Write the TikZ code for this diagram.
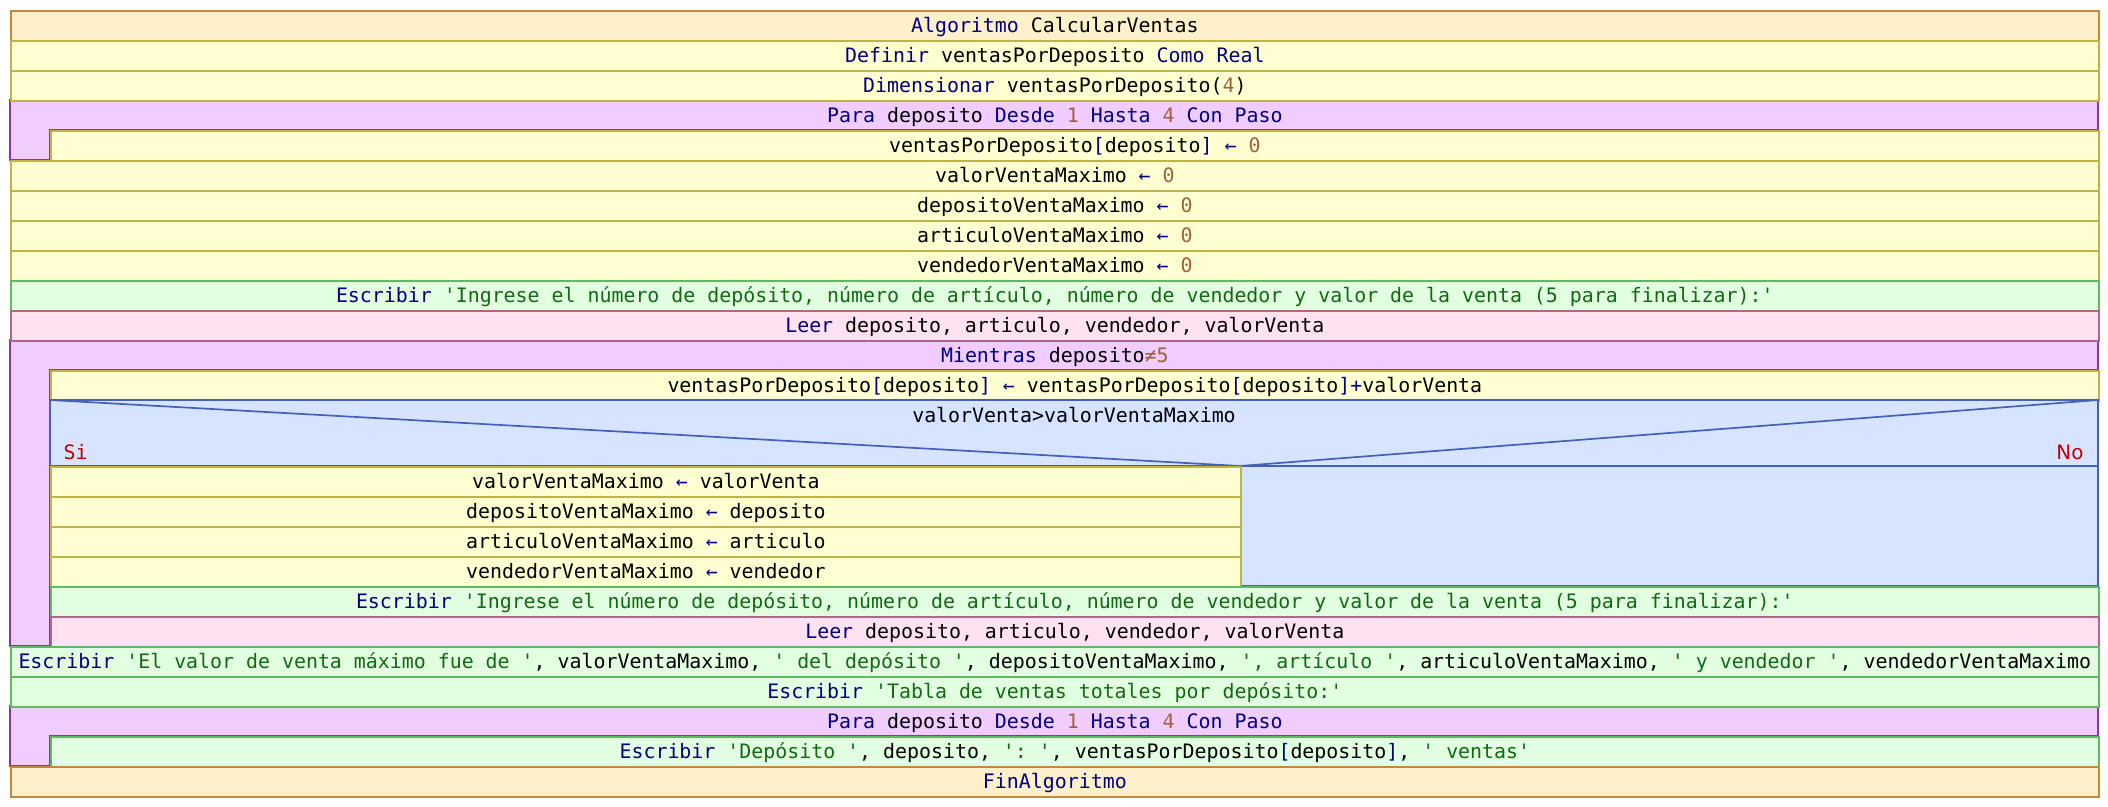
\documentclass[tikz,border=0pt]{standalone}
\usepackage{fontspec}
\setmonofont{DejaVu Sans Mono}
\usetikzlibrary{positioning}
\usepackage{xcolor}
\definecolor{algfill}{HTML}{FFF0CC}
\definecolor{algline}{HTML}{C08A3A}
\definecolor{asigfill}{HTML}{FFFFD2}
\definecolor{asigline}{HTML}{BFB448}
\definecolor{parafill}{HTML}{F0CCFF}
\definecolor{paraline}{HTML}{8038B0}
\definecolor{escfill}{HTML}{E2FFE2}
\definecolor{escline}{HTML}{62B862}
\definecolor{leerfill}{HTML}{FFE2F2}
\definecolor{leerline}{HTML}{B06688}
\definecolor{condfill}{HTML}{D6E4FF}
\definecolor{condline}{HTML}{4460B8}
\definecolor{kwcol}{HTML}{000080}
\definecolor{numcol}{HTML}{A0603A}
\definecolor{strcol}{HTML}{106A10}
\definecolor{sinocol}{HTML}{C00000}
\newcommand{\kwd}[1]{\textcolor{kwcol}{#1}}
\newcommand{\numr}[1]{\textcolor{numcol}{#1}}
\newcommand{\strg}[1]{\textcolor{strcol}{#1}}
\newcommand{\opr}[1]{\textcolor{kwcol}{#1}}
\tikzset{
  caja/.style={line width=1.7pt, inner sep=0pt, anchor=north west, minimum height=30pt, text height=15pt, text depth=1pt},
  alg/.style={caja, draw=algline, fill=algfill},
  asig/.style={caja, draw=asigline, fill=asigfill},
  esc/.style={caja, draw=escline, fill=escfill},
  leer/.style={caja, draw=leerline, fill=leerfill},
  cabeza/.style={caja},
  bucle/.style={line width=1.7pt, draw=paraline, fill=parafill},
  cond/.style={line width=1.7pt, draw=condline, fill=condfill},
  full/.style={minimum width=2088pt},
  ind/.style={minimum width=2048pt},
  rama/.style={minimum width=1190pt}
}

\begin{document}
\begin{tikzpicture}[x=1pt,y=-1pt,font=\ttfamily\fontsize{19.9}{24}\selectfont]
  \useasboundingbox (0,0) rectangle (2108,806);
  % Bucles (fondo)
  \filldraw[bucle] (10,100) -- (2098,100) -- (2098,130) -- (50,130) -- (50,160) -- (10,160) -- cycle;
  \filldraw[bucle] (10,340) -- (2098,340) -- (2098,370) -- (50,370) -- (50,646) -- (10,646) -- cycle;
  \filldraw[bucle] (10,706) -- (2098,706) -- (2098,736) -- (50,736) -- (50,766) -- (10,766) -- cycle;
  % Inicio
  \node[alg,full] (alg) at (10,10) {\kwd{Algoritmo} CalcularVentas};
  \node[asig,full] (defin) at (10,40) {\kwd{Definir} ventasPorDeposito \kwd{Como Real}};
  \node[asig,full] (dimen) at (10,70) {\kwd{Dimensionar} ventasPorDeposito(\numr{4})};
  % Para 1
  \node[cabeza,full] (para1) at (10,100) {\kwd{Para} deposito \kwd{Desde} \numr{1} \kwd{Hasta} \numr{4} \kwd{Con Paso}};
  \node[asig,ind] (ini) at (50,130) {ventasPorDeposito\opr{[}deposito\opr{]} \opr{←} \numr{0}};
  % Maximos
  \node[asig,full] (valmax) at (10,160) {valorVentaMaximo \opr{←} \numr{0}};
  \node[asig,full] (depmax) at (10,190) {depositoVentaMaximo \opr{←} \numr{0}};
  \node[asig,full] (artmax) at (10,220) {articuloVentaMaximo \opr{←} \numr{0}};
  \node[asig,full] (venmax) at (10,250) {vendedorVentaMaximo \opr{←} \numr{0}};
  \node[esc,full] (esc1) at (10,280) {\kwd{Escribir} \strg{'Ingrese el número de depósito, número de artículo, número de vendedor y valor de la venta (5 para finalizar):'}};
  \node[leer,full] (leer1) at (10,310) {\kwd{Leer} deposito, articulo, vendedor, valorVenta};
  % Mientras
  \node[cabeza,full] (mientras) at (10,340) {\kwd{Mientras} deposito\numr{≠5}};
  \node[asig,ind] (acum) at (50,370) {ventasPorDeposito\opr{[}deposito\opr{]} \opr{←} ventasPorDeposito\opr{[}deposito\opr{]}\opr{+}valorVenta};
  % Si
  \filldraw[cond] (50,400) rectangle (2098,466);
  \filldraw[cond] (1240,466) rectangle (2098,586);
  \coordinate (cizq) at (50,400);
  \coordinate (cder) at (2098,400);
  \coordinate (cpun) at (1240,466);
  \draw[line width=1.7pt, condline] (cizq) -- (cpun) -- (cder);
  \node[anchor=base] (cond) at (1074,422) {valorVenta>valorVentaMaximo};
  \node[anchor=base west, sinocol] (si) at (60,459) {Si};
  \node[anchor=base east, sinocol, font=\fontspec{DejaVu Sans}\fontsize{19.9}{24}\selectfont] (no) at (2087,459) {No};
  \node[asig,rama] (valmax2) at (50,466) {valorVentaMaximo \opr{←} valorVenta};
  \node[asig,rama] (depmax2) at (50,496) {depositoVentaMaximo \opr{←} deposito};
  \node[asig,rama] (artmax2) at (50,526) {articuloVentaMaximo \opr{←} articulo};
  \node[asig,rama] (venmax2) at (50,556) {vendedorVentaMaximo \opr{←} vendedor};
  \node[esc,ind] (esc2) at (50,586) {\kwd{Escribir} \strg{'Ingrese el número de depósito, número de artículo, número de vendedor y valor de la venta (5 para finalizar):'}};
  \node[leer,ind] (leer2) at (50,616) {\kwd{Leer} deposito, articulo, vendedor, valorVenta};
  % Resultados
  \node[esc,full] (escres) at (10,646) {\kwd{Escribir} \strg{'El valor de venta máximo fue de '}, valorVentaMaximo, \strg{' del depósito '}, depositoVentaMaximo, \strg{', artículo '}, articuloVentaMaximo, \strg{' y vendedor '}, vendedorVentaMaximo};
  \node[esc,full] (esctab) at (10,676) {\kwd{Escribir} \strg{'Tabla de ventas totales por depósito:'}};
  % Para 2
  \node[cabeza,full] (para2) at (10,706) {\kwd{Para} deposito \kwd{Desde} \numr{1} \kwd{Hasta} \numr{4} \kwd{Con Paso}};
  \node[esc,ind] (escdep) at (50,736) {\kwd{Escribir} \strg{'Depósito '}, deposito, \strg{': '}, ventasPorDeposito\opr{[}deposito\opr{]}, \strg{' ventas'}};
  % Fin
  \node[alg,full] (fin) at (10,766) {\kwd{FinAlgoritmo}};
\end{tikzpicture}
\end{document}
